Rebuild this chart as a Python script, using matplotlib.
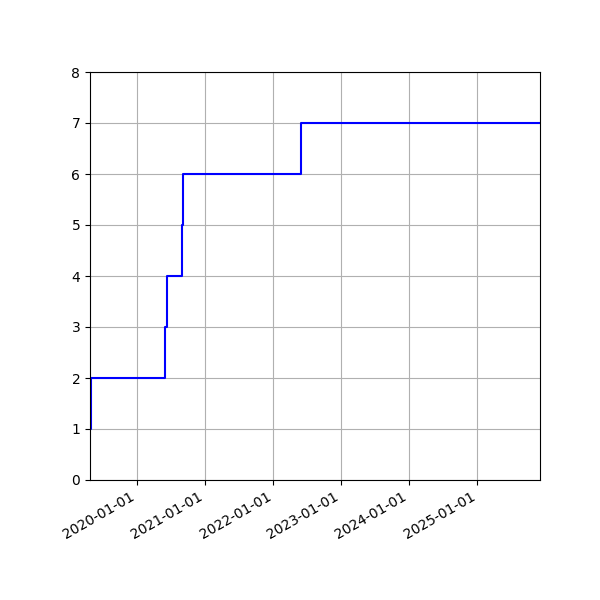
import matplotlib
matplotlib.use('Agg')
import matplotlib.pyplot as plt
import matplotlib.dates as mdates
import pandas as pd

# step dates and cumulative count
dates = ['2019-04-22', '2019-04-29', '2020-05-29', '2020-06-07',
         '2020-08-30', '2020-09-04', '2022-05-29', '2025-12-04']
counts = [1, 2, 3, 4, 5, 6, 7, 7]

x = pd.to_datetime(dates)

fig, ax = plt.subplots(figsize=(6, 6), dpi=100)
ax.step(x, counts, where='post', color='blue', linewidth=1.5)

ax.set_xlim(x[0], x[-1])
ax.set_ylim(0, 8)
ax.xaxis.set_major_locator(mdates.YearLocator())
ax.xaxis.set_major_formatter(mdates.DateFormatter('%Y-%m-%d'))
ax.grid(True)

fig.autofmt_xdate()
fig.subplots_adjust(left=0.15, right=0.9, top=0.88, bottom=0.2)
fig.savefig('out.png')
